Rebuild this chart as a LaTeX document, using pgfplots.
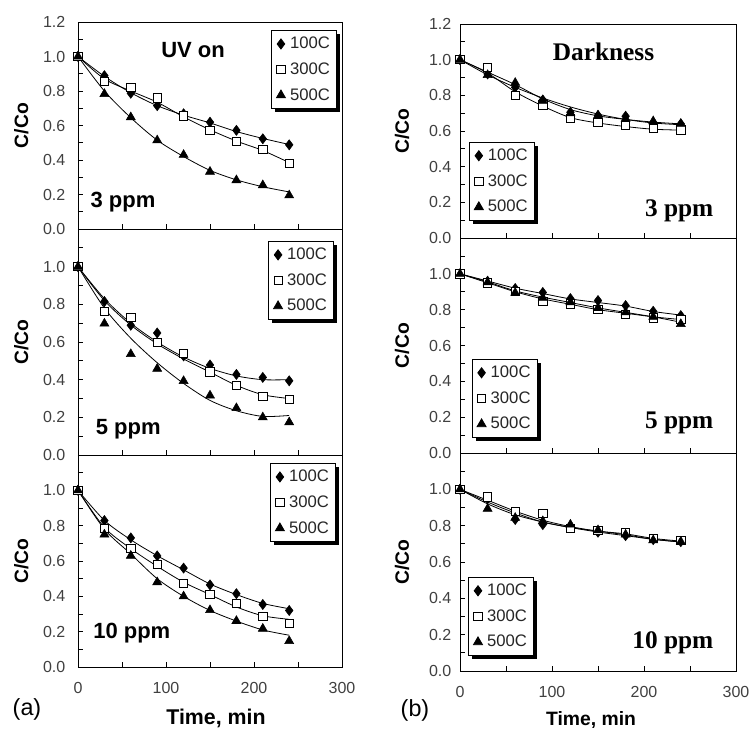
\documentclass[border=0pt]{standalone}
\usepackage{fontspec}
\setmainfont{Liberation Sans}
\newfontfamily\timesfont{Liberation Serif}
\usepackage{pgfplots}
\pgfplotsset{compat=1.18}
\usetikzlibrary{shadows}

\newcommand\fs[1]{\fontsize{#1}{#1}\selectfont}

\tikzset{
  lefttxt/.style={font=\bfseries\fs{16.5}},
  righttxt/.style={font=\timesfont\bfseries\fs{19}},
}

\pgfplotsset{
  panel/.style={
    scale only axis, anchor=north west, clip=false,
    xmin=0, xmax=300, ymin=0, ymax=1.2,
    axis line style={black, line width=0.7pt},
    tick align=inside, xtick pos=bottom, ytick pos=left,
    xtick={0,50,...,300},
    minor ytick={0.1,0.3,0.5,0.7,0.9,1.1},
    major tick length=4pt, minor tick length=4pt,
    tick style={black, line width=0.6pt},
    every tick label/.append style={font=\fs{12}, text=black!75},
    /pgf/number format/assume math mode=true,
    yticklabel style={/pgf/number format/fixed, /pgf/number format/fixed zerofill,
      /pgf/number format/precision=1, xshift=-6pt},
    xticklabel style={yshift=-8pt},
    ylabel={C/Co},
    ylabel style={font=\bfseries\fs{14.5}, at={(axis description cs:-0.215,0.5)}, anchor=center},
    legend cell align=left,
    legend style={draw=black, fill=white, line width=0.6pt, font=\fs{12.5}, text=black!85,
      drop shadow={shadow xshift=2.5pt, shadow yshift=-2.5pt, fill=black, opacity=1},
      inner xsep=3pt, inner ysep=3pt, row sep=5pt},
    legend image code/.code={\draw[#1] plot coordinates {(0.14cm,0cm)};
      \path[draw=none, fill=none] (0cm,0cm) (0.31cm,0cm);},
  },
  toppanel/.style={ytick={0,0.2,0.4,0.6,0.8,1.0,1.2}},
  lowpanel/.style={ytick={0,0.2,0.4,0.6,0.8,1.0}},
  nolabels/.style={xticklabels={}},
  bottomlabels/.style={xticklabels={0,,100,,200,,300}},
  leftcol/.style={width=198pt},
  rightcol/.style={width=207pt, yticklabel style={xshift=3pt},
    ylabel style={at={(axis description cs:-0.21,0.5)}}},
  legL/.style={legend style={at={(#1)}, anchor=north east}},
  legR/.style={legend style={at={(#1)}, anchor=south west}},
  s100/.style={only marks, mark=diamond*, mark size=3.8pt, color=black,
    mark options={fill=black, draw=black}},
  s300/.style={only marks, mark=square*, mark size=3.1pt, color=black,
    mark options={fill=white, draw=black, line width=0.6pt}},
  s500/.style={only marks, mark=triangle*, mark size=3.9pt, color=black,
    mark options={fill=black, draw=black}},
  fit/.style={black, line width=0.6pt, smooth, tension=0.5, no marks, forget plot},
}

\begin{document}
\begin{tikzpicture}
\path[use as bounding box] (0,0) rectangle (564pt,-546.75pt);

% ---------------- (a) UV on ----------------
% 3 ppm
\begin{axis}[panel, leftcol, toppanel, nolabels, legL={0.981,0.961},
  at={(58.5pt,-16.5pt)}, height=155.25pt]
\addplot[fit] coordinates {(0,1.0)(30,0.885)(60,0.79)(90,0.715)(120,0.66)(150,0.615)(180,0.565)(210,0.525)(240,0.49)};
\addplot[fit] coordinates {(0,1.0)(30,0.87)(60,0.80)(90,0.735)(120,0.65)(150,0.575)(180,0.51)(210,0.455)(240,0.385)};
\addplot[fit] coordinates {(0,1.0)(30,0.80)(60,0.645)(90,0.515)(120,0.42)(150,0.34)(180,0.285)(210,0.245)(240,0.215)};
\addplot[s100] coordinates {(0,1.0)(30,0.889)(60,0.787)(90,0.715)(120,0.668)(150,0.619)(180,0.572)(210,0.523)(240,0.488)};
\addplot[s300] coordinates {(0,1.0)(30,0.857)(60,0.82)(90,0.76)(120,0.656)(150,0.572)(180,0.508)(210,0.461)(240,0.379)};
\addplot[s500] coordinates {(0,1.0)(30,0.783)(60,0.648)(90,0.514)(120,0.43)(150,0.332)(180,0.283)(210,0.254)(240,0.195)};
\legend{100C,300C,500C}
\node[lefttxt] at (rel axis cs:0.436,0.865) {UV on};
\node[lefttxt, anchor=west] at (rel axis cs:0.03,0.13) {3 ppm};
\end{axis}

% 5 ppm
\begin{axis}[panel, leftcol, lowpanel, nolabels, legL={0.97,0.947},
  at={(58.5pt,-171.75pt)}, height=169.5pt]
\addplot[fit] coordinates {(0,1.0)(30,0.83)(60,0.70)(90,0.60)(120,0.52)(150,0.46)(180,0.42)(210,0.40)(240,0.40)};
\addplot[fit] coordinates {(0,1.0)(30,0.82)(60,0.69)(90,0.59)(120,0.51)(150,0.44)(180,0.37)(210,0.32)(240,0.30)};
\addplot[fit] coordinates {(0,1.0)(30,0.78)(60,0.62)(90,0.49)(120,0.38)(150,0.29)(180,0.235)(210,0.205)(240,0.21)};
\addplot[s100] coordinates {(0,1.0)(30,0.815)(60,0.689)(90,0.648)(120,0.526)(150,0.478)(180,0.428)(210,0.412)(240,0.394)};
\addplot[s300] coordinates {(0,1.0)(30,0.762)(60,0.73)(90,0.597)(120,0.54)(150,0.442)(180,0.368)(210,0.313)(240,0.297)};
\addplot[s500] coordinates {(0,1.0)(30,0.698)(60,0.536)(90,0.458)(120,0.393)(150,0.316)(180,0.249)(210,0.20)(240,0.174)};
\legend{100C,300C,500C}
\node[lefttxt, anchor=west] at (rel axis cs:0.05,0.115) {5 ppm};
\end{axis}

% 10 ppm
\begin{axis}[panel, leftcol, lowpanel, bottomlabels, legL={0.977,0.962},
  at={(58.5pt,-341.25pt)}, height=159pt]
\addplot[fit] coordinates {(0,1.0)(30,0.83)(60,0.72)(90,0.63)(120,0.55)(150,0.47)(180,0.41)(210,0.36)(240,0.33)};
\addplot[fit] coordinates {(0,1.0)(30,0.79)(60,0.67)(90,0.57)(120,0.48)(150,0.41)(180,0.34)(210,0.29)(240,0.27)};
\addplot[fit] coordinates {(0,1.0)(30,0.78)(60,0.64)(90,0.50)(120,0.40)(150,0.32)(180,0.26)(210,0.21)(240,0.18)};
\addplot[s100] coordinates {(0,1.0)(30,0.829)(60,0.731)(90,0.629)(120,0.56)(150,0.465)(180,0.415)(210,0.354)(240,0.32)};
\addplot[s300] coordinates {(0,1.0)(30,0.785)(60,0.672)(90,0.581)(120,0.472)(150,0.41)(180,0.362)(210,0.286)(240,0.248)};
\addplot[s500] coordinates {(0,1.0)(30,0.75)(60,0.63)(90,0.48)(120,0.40)(150,0.322)(180,0.261)(210,0.217)(240,0.147)};
\legend{100C,300C,500C}
\node[lefttxt, anchor=west] at (rel axis cs:0.04,0.16) {10 ppm};
\end{axis}

% ---------------- (b) Darkness ----------------
% 3 ppm
\begin{axis}[panel, rightcol, toppanel, nolabels, legR={0.033,0.08},
  at={(345pt,-18pt)}, height=160.5pt]
\addplot[fit] coordinates {(0,1.0)(30,0.915)(60,0.845)(90,0.785)(120,0.735)(150,0.695)(180,0.665)(210,0.645)(240,0.635)};
\addplot[fit] coordinates {(0,1.0)(30,0.925)(60,0.82)(90,0.74)(120,0.675)(150,0.645)(180,0.625)(210,0.61)(240,0.605)};
\addplot[fit] coordinates {(0,1.0)(30,0.93)(60,0.86)(90,0.78)(120,0.72)(150,0.685)(180,0.665)(210,0.65)(240,0.64)};
\addplot[s100] coordinates {(0,1.0)(30,0.92)(60,0.845)(90,0.774)(120,0.705)(150,0.687)(180,0.683)(210,0.644)(240,0.64)};
\addplot[s300] coordinates {(0,1.0)(30,0.955)(60,0.80)(90,0.746)(120,0.672)(150,0.649)(180,0.63)(210,0.616)(240,0.606)};
\addplot[s500] coordinates {(0,1.0)(30,0.914)(60,0.87)(90,0.77)(120,0.70)(150,0.687)(180,0.668)(210,0.655)(240,0.64)};
\legend{100C,300C,500C}
\node[righttxt] at (rel axis cs:0.52,0.87) {Darkness};
\node[righttxt, anchor=east] at (rel axis cs:0.935,0.126) {3 ppm};
\end{axis}

% 5 ppm
\begin{axis}[panel, rightcol, lowpanel, nolabels, legR={0.043,0.07},
  at={(345pt,-178.5pt)}, height=161.25pt]
\addplot[fit] coordinates {(0,1.0)(30,0.96)(60,0.92)(90,0.89)(120,0.86)(150,0.84)(180,0.82)(210,0.79)(240,0.77)};
\addplot[fit] coordinates {(0,1.0)(30,0.95)(60,0.90)(90,0.86)(120,0.83)(150,0.80)(180,0.78)(210,0.76)(240,0.745)};
\addplot[fit] coordinates {(0,1.0)(30,0.955)(60,0.905)(90,0.87)(120,0.84)(150,0.81)(180,0.785)(210,0.76)(240,0.73)};
\addplot[s100] coordinates {(0,1.0)(30,0.959)(60,0.918)(90,0.896)(120,0.862)(150,0.851)(180,0.823)(210,0.791)(240,0.767)};
\addplot[s300] coordinates {(0,1.0)(30,0.95)(60,0.90)(90,0.847)(120,0.832)(150,0.80)(180,0.773)(210,0.754)(240,0.745)};
\addplot[s500] coordinates {(0,1.0)(30,0.953)(60,0.894)(90,0.866)(120,0.842)(150,0.81)(180,0.786)(210,0.76)(240,0.72)};
\legend{100C,300C,500C}
\node[righttxt, anchor=east] at (rel axis cs:0.935,0.14) {5 ppm};
\end{axis}

% 10 ppm
\begin{axis}[panel, rightcol, lowpanel, bottomlabels, legR={0.03,0.069},
  at={(345pt,-339.75pt)}, height=163.5pt]
\addplot[fit] coordinates {(0,1.0)(30,0.93)(60,0.87)(90,0.82)(120,0.79)(150,0.765)(180,0.745)(210,0.725)(240,0.71)};
\addplot[fit] coordinates {(0,1.0)(30,0.94)(60,0.88)(90,0.83)(120,0.795)(150,0.77)(180,0.755)(210,0.73)(240,0.715)};
\addplot[fit] coordinates {(0,1.0)(30,0.92)(60,0.86)(90,0.82)(120,0.79)(150,0.77)(180,0.75)(210,0.725)(240,0.71)};
\addplot[s100] coordinates {(0,1.0)(30,0.948)(60,0.834)(90,0.806)(120,0.792)(150,0.764)(180,0.745)(210,0.723)(240,0.712)};
\addplot[s300] coordinates {(0,1.0)(30,0.959)(60,0.88)(90,0.867)(120,0.784)(150,0.775)(180,0.764)(210,0.731)(240,0.718)};
\addplot[s500] coordinates {(0,1.0)(30,0.893)(60,0.843)(90,0.825)(120,0.806)(150,0.775)(180,0.751)(210,0.72)(240,0.712)};
\legend{100C,300C,500C}
\node[righttxt, anchor=east] at (rel axis cs:0.935,0.13) {10 ppm};
\end{axis}

% panel tags and shared axis titles
\node[font=\fs{17.5}] at (20.25pt,-531.75pt) {(a)};
\node[font=\fs{17.5}] at (311.25pt,-532.5pt) {(b)};
\node[font=\bfseries\fs{16}] at (162pt,-538.5pt) {Time, min};
\node[font=\bfseries\fs{14.5}] at (443.25pt,-540pt) {Time, min};
\end{tikzpicture}
\end{document}
